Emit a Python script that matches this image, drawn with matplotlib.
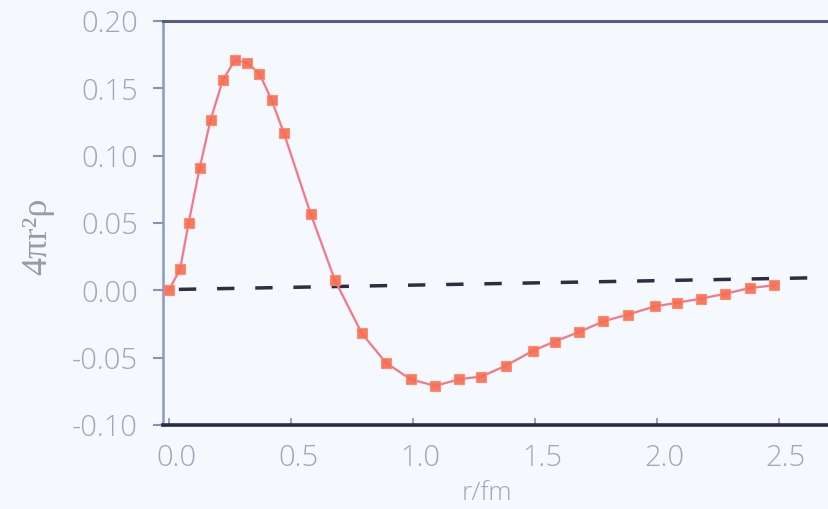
import matplotlib
matplotlib.use("Agg")
import matplotlib.pyplot as plt
import matplotlib.transforms as mtransforms

# data
r = [0.0, 0.045, 0.08, 0.125, 0.17, 0.22, 0.27, 0.32, 0.37, 0.42, 0.47,
     0.58, 0.68, 0.79, 0.89, 0.99, 1.09, 1.19, 1.28, 1.38, 1.49, 1.58,
     1.68, 1.78, 1.88, 1.99, 2.08, 2.18, 2.28, 2.38, 2.48]
density = [0.0005, 0.0156, 0.050, 0.0906, 0.1266, 0.156, 0.171, 0.169, 0.161,
           0.1415, 0.117, 0.057, 0.0074, -0.032, -0.054, -0.066, -0.071,
           -0.066, -0.064, -0.056, -0.045, -0.038, -0.031, -0.023, -0.018,
           -0.012, -0.0093, -0.0062, -0.0025, 0.0017, 0.0037]
ref_r = [0.04, 2.7]
ref_y = [0.0007, 0.0095]

xticks = [0.0, 0.5, 1.0, 1.5, 2.0, 2.5]
yticks = [-0.10, -0.05, 0.00, 0.05, 0.10, 0.15, 0.20]

bg = "#f5f8fc"
tick_col = "#a2a6bc"
plt.rcParams["font.family"] = ["Open Sans", "DejaVu Sans"]

fig = plt.figure(figsize=(8.29, 5.09), dpi=100, facecolor=bg)
ax = fig.add_axes([163 / 829, (509 - 425) / 509, 1 - 163 / 829, (425 - 21) / 509])
ax.set_facecolor(bg)

ax.plot(ref_r, ref_y, color="#2e2e40", lw=2.5, dashes=(5, 6), zorder=2)
ax.plot(r, density, color="#f27888", lw=1.6, zorder=3)
ax.plot(r, density, ls="none", marker="s", ms=7.5, mfc="#f96a50", mec="#fa8a6a",
        mew=0.8, alpha=0.9, zorder=4)

ax.set_xlim(-0.025, 2.705)
ax.set_ylim(-0.10, 0.20)
ax.set_xticks(xticks)
ax.set_yticks(yticks)
ax.set_xticklabels([f"{v:.1f}" for v in xticks])
ax.set_yticklabels([f"{v:.2f}" for v in yticks])

ax.tick_params(axis="y", direction="out", length=7, width=1.5, color="#8890b8",
               labelsize=21, labelcolor=tick_col, pad=11)
ax.tick_params(axis="x", direction="in", length=5, width=1.2, color="#8890b8",
               labelsize=21, labelcolor=tick_col, pad=13)

offset = mtransforms.ScaledTranslation(7 / 100, 0, fig.dpi_scale_trans)
for lab in ax.get_xticklabels():
    lab.set_fontweight("light")
    lab.set_transform(lab.get_transform() + offset)
for lab in ax.get_yticklabels():
    lab.set_fontweight("light")

ax.spines["right"].set_visible(False)
ax.spines["left"].set_color("#8a98d0")
ax.spines["left"].set_linewidth(1.8)
ax.spines["bottom"].set_color("#2a2a48")
ax.spines["bottom"].set_linewidth(2.6)
ax.spines["top"].set_color("#5a5a7a")
ax.spines["top"].set_linewidth(2.2)

fig.text(487 / 829, 1 - 494 / 509, "r/fm", fontsize=19, color=tick_col,
         ha="center", va="center", fontweight="light")
fig.text(38 / 829, 1 - 236 / 509, "4πr²ρ", rotation=90, fontsize=26,
         color="#9a9aa6", ha="center", va="center",
         family=["Liberation Serif", "DejaVu Serif"])

fig.savefig("out.png", dpi=100, facecolor=bg)
